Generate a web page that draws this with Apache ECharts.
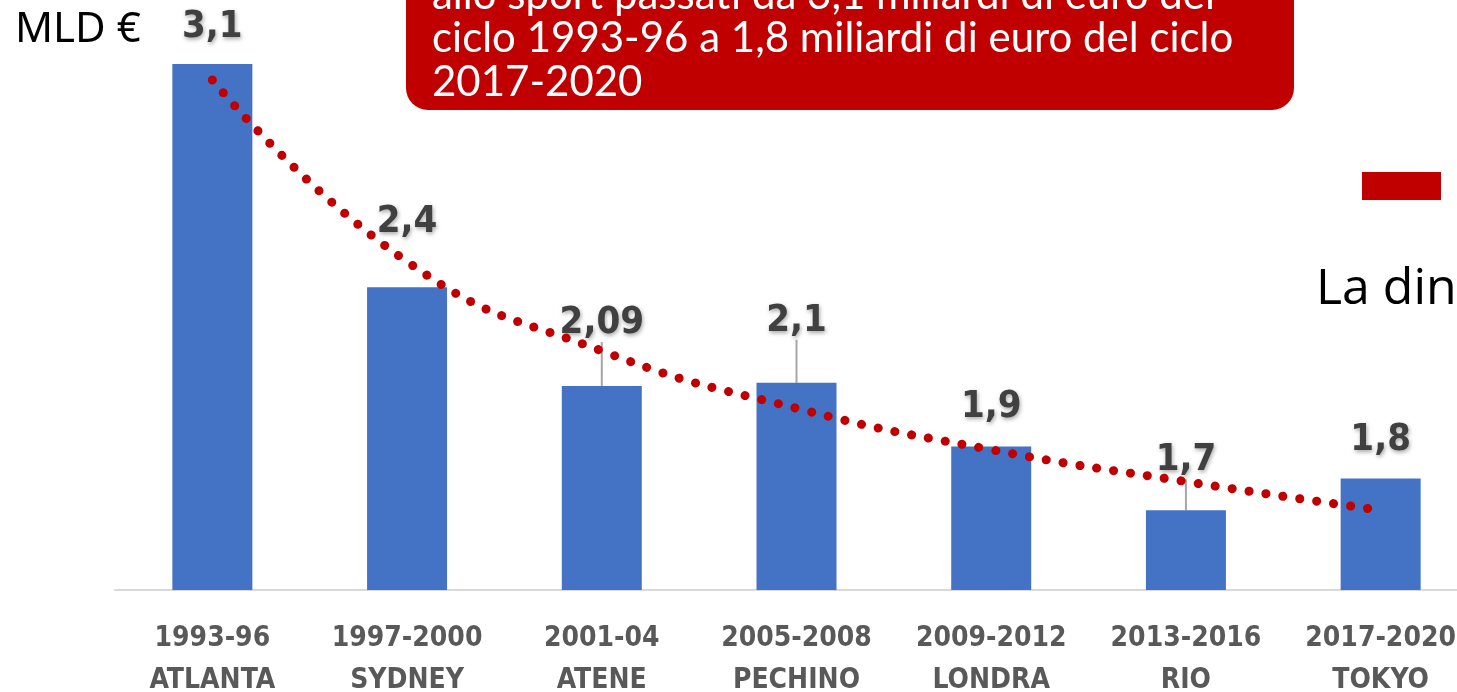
<!DOCTYPE html>
<html>
<head>
<meta charset="utf-8">
<style>
  html, body { margin: 0; padding: 0; overflow: hidden; background: #ffffff; }
  #chart { width: 1480px; height: 692px; }
</style>
<script src="https://cdn.jsdelivr.net/npm/echarts@6/dist/echarts.min.js"></script>
</head>
<body>
<div id="chart"></div>
<script>
// Olympic funding cycles and amounts (billions of euro)
const cycles = ['1993-96', '1997-2000', '2001-04', '2005-2008', '2009-2012', '2013-2016', '2017-2020'];
const cities = ['ATLANTA', 'SYDNEY', 'ATENE', 'PECHINO', 'LONDRA', 'RIO', 'TOKYO'];
const funds = [3.1, 2.4, 2.09, 2.1, 1.9, 1.7, 1.8];
const fundLabels = ['3,1', '2,4', '2,09', '2,1', '1,9', '1,7', '1,8'];
// trend curve values per cycle
const trend = [3.05, 2.48, 2.20, 2.02, 1.89, 1.79, 1.70];
// vertical shift of each value label, and whether it gets a leader line
const labelShift = [-13, -41, -39, -38, -15, -26, -14];
const labelLeader = [false, false, true, true, false, true, false];

const chart = echarts.init(document.getElementById('chart'), null, { renderer: 'canvas' });

const labelFont = '"Liberation Sans Narrow", "DejaVu Sans Condensed", "Liberation Sans", sans-serif';
const boxFont = 'Lato, "Open Sans", sans-serif';

chart.setOption({
  backgroundColor: '#ffffff',
  animation: false,
  grid: { left: 115, right: 2, top: 64, bottom: 102, containLabel: false, outerBoundsMode: 'none' },
  xAxis: {
    type: 'category',
    data: cycles.map((c, i) => c + '\n' + cities[i]),
    axisLine: { show: true, lineStyle: { color: '#d9d9d9', width: 2 } },
    axisTick: { show: false },
    axisLabel: {
      interval: 0,
      color: '#595959',
      fontFamily: labelFont,
      fontWeight: 'bold',
      fontSize: 28,
      lineHeight: 42,
      margin: 28
    }
  },
  yAxis: {
    type: 'value',
    min: 1.45,
    max: 3.1,
    show: false,
    splitLine: { show: false }
  },
  series: [
    {
      type: 'bar',
      barWidth: 80,
      itemStyle: { color: '#4472c4' },
      data: funds.map((v, i) => ({
        value: v,
        labelLine: { show: labelLeader[i] }
      })),
      label: {
        show: true,
        position: 'top',
        distance: 5,
        formatter: p => fundLabels[p.dataIndex],
        color: '#404040',
        fontFamily: labelFont,
        fontWeight: 'bold',
        fontSize: 38,
        textShadowColor: 'rgba(0,0,0,0.35)',
        textShadowBlur: 4,
        textShadowOffsetX: 1,
        textShadowOffsetY: 2
      },
      labelLine: {
        show: false,
        lineStyle: { color: '#a6a6a6', width: 2 }
      },
      labelLayout: p => ({ dy: labelShift[p.dataIndex] }),
      z: 2
    },
    {
      type: 'line',
      data: trend,
      smooth: true,
      symbol: 'none',
      lineStyle: { color: '#c00000', width: 9, type: [0.1, 17], cap: 'round' },
      z: 3
    }
  ],
  graphic: [
    {
      type: 'text',
      left: 15, top: 9,
      style: { text: 'MLD €', fill: '#000000', font: '42px "Noto Sans", "DejaVu Sans", sans-serif' }
    },
    {
      type: 'rect',
      shape: { x: 406, y: -40, width: 888, height: 150, r: 22 },
      style: { fill: '#c00000' },
      z: 10
    },
    {
      type: 'text', z: 11,
      style: { x: 432, y: -5, text: 'allo sport passati da 3,1 miliardi di euro del', fill: '#ffffff',
               font: '42px ' + boxFont, verticalAlign: 'middle' }
    },
    {
      type: 'text', z: 11,
      style: { x: 432, y: 38, text: 'ciclo 1993-96 a 1,8 miliardi di euro del ciclo', fill: '#ffffff',
               font: '42px ' + boxFont, verticalAlign: 'middle' }
    },
    {
      type: 'text', z: 11,
      style: { x: 432, y: 82, text: '2017-2020', fill: '#ffffff',
               font: '42px ' + boxFont, verticalAlign: 'middle' }
    },
    {
      type: 'rect',
      shape: { x: 1362, y: 172, width: 79, height: 28 },
      style: { fill: '#c00000' },
      z: 10
    },
    {
      type: 'text', z: 11,
      style: { x: 1316, y: 290, text: 'La dinamica', fill: '#000000',
               font: '50px "Open Sans", Lato, sans-serif', verticalAlign: 'middle' }
    }
  ]
});
</script>
</body>
</html>
